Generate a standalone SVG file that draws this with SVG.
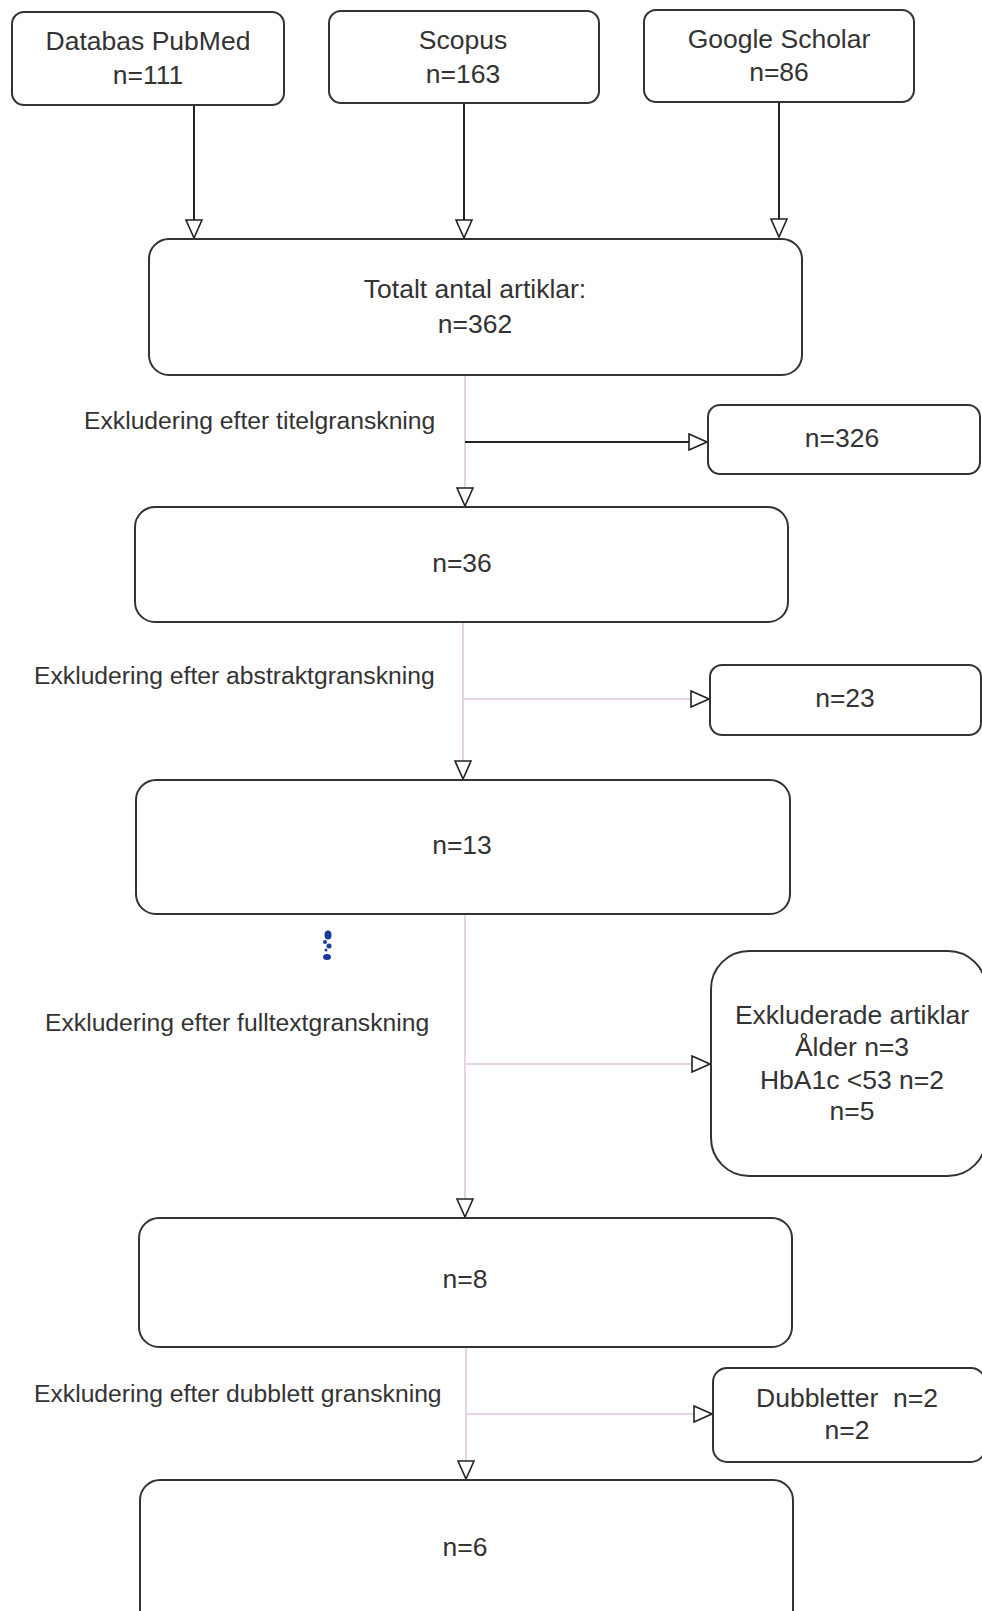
<svg xmlns="http://www.w3.org/2000/svg" width="982" height="1611" viewBox="0 0 982 1611">
<style>
.box{fill:#fff;stroke:#333;stroke-width:2}
.t{font-family:"Liberation Sans",Arial,sans-serif;font-size:26.5px;fill:#333;text-anchor:middle}
.lbl{font-family:"Liberation Sans",Arial,sans-serif;font-size:24.7px;fill:#333}
.dark{stroke:#222;stroke-width:2;fill:none}
.pale{stroke:#e6d3e6;stroke-width:2;fill:none}
</style>
<defs>
<marker id="arr" viewBox="0 0 20 18" refX="19" refY="9" markerWidth="20" markerHeight="18" markerUnits="userSpaceOnUse" orient="auto">
<path d="M1,1 L19,9 L1,17 z" fill="#fff" stroke="#222" stroke-width="1.6"/>
</marker>
</defs>
<rect width="982" height="1611" fill="#fff"/>
<g id="connectors">
<line class="dark" x1="194" y1="105" x2="194" y2="238" marker-end="url(#arr)"/>
<line class="dark" x1="464" y1="103" x2="464" y2="238" marker-end="url(#arr)"/>
<line class="dark" x1="779" y1="102" x2="779" y2="237" marker-end="url(#arr)"/>
<line class="pale" x1="465" y1="375" x2="465" y2="506" marker-end="url(#arr)"/>
<line class="dark" x1="465" y1="442" x2="707" y2="442" marker-end="url(#arr)"/>
<line class="pale" x1="463" y1="622" x2="463" y2="779" marker-end="url(#arr)"/>
<line class="pale" x1="463" y1="699" x2="709" y2="699" marker-end="url(#arr)"/>
<line class="pale" x1="465" y1="914" x2="465" y2="1217" marker-end="url(#arr)"/>
<line class="pale" x1="465" y1="1064" x2="710" y2="1064" marker-end="url(#arr)"/>
<line class="pale" x1="466" y1="1347" x2="466" y2="1479" marker-end="url(#arr)"/>
<line class="pale" x1="466" y1="1414" x2="712" y2="1414" marker-end="url(#arr)"/>
</g>
<g id="pubmed"><rect class="box" x="12" y="12" width="272" height="93" rx="12"/><text class="t" x="148" y="50">Databas PubMed</text><text class="t" x="148" y="84">n=111</text></g>
<g id="scopus"><rect class="box" x="329" y="11" width="270" height="92" rx="12"/><text class="t" x="463" y="49">Scopus</text><text class="t" x="463" y="83">n=163</text></g>
<g id="scholar"><rect class="box" x="644" y="10" width="270" height="92" rx="12"/><text class="t" x="779" y="48">Google Scholar</text><text class="t" x="779" y="81">n=86</text></g>
<g id="total"><rect class="box" x="149" y="239" width="653" height="136" rx="20"/><text class="t" x="475" y="298">Totalt antal artiklar:</text><text class="t" x="475" y="333">n=362</text></g>
<g id="label1"><text class="lbl" x="84" y="429">Exkludering efter titelgranskning</text></g>
<g id="excl1"><rect class="box" x="708" y="405" width="272" height="69" rx="12"/><text class="t" x="842" y="447">n=326</text></g>
<g id="n36"><rect class="box" x="135" y="507" width="653" height="115" rx="20"/><text class="t" x="462" y="572">n=36</text></g>
<g id="label2"><text class="lbl" x="34" y="684">Exkludering efter abstraktgranskning</text></g>
<g id="excl2"><rect class="box" x="710" y="665" width="271" height="70" rx="12"/><text class="t" x="845" y="707">n=23</text></g>
<g id="n13"><rect class="box" x="136" y="780" width="654" height="134" rx="20"/><text class="t" x="462" y="854">n=13</text></g>
<g id="mark" fill="#1a3a9a"><ellipse cx="328" cy="935" rx="3.5" ry="4.5"/><circle cx="325" cy="942" r="2"/><circle cx="329" cy="946" r="2.5"/><circle cx="326" cy="950" r="1.5"/><ellipse cx="327" cy="957" rx="4" ry="3"/></g>
<g id="label3"><text class="lbl" x="45" y="1031">Exkludering efter fulltextgranskning</text></g>
<g id="excl3"><rect class="box" x="711" y="951" width="275" height="225" rx="38"/><text class="t" x="852" y="1024">Exkluderade artiklar</text><text class="t" x="852" y="1056">Ålder n=3</text><text class="t" x="852" y="1089">HbA1c &lt;53 n=2</text><text class="t" x="852" y="1120">n=5</text></g>
<g id="n8"><rect class="box" x="139" y="1218" width="653" height="129" rx="20"/><text class="t" x="465" y="1288">n=8</text></g>
<g id="label4"><text class="lbl" x="34" y="1402">Exkludering efter dubblett granskning</text></g>
<g id="excl4"><rect class="box" x="713" y="1368" width="272" height="94" rx="14"/><text class="t" x="847" y="1407">Dubbletter&#160; n=2</text><text class="t" x="847" y="1439">n=2</text></g>
<g id="n6"><rect class="box" x="140" y="1480" width="653" height="150" rx="20"/><text class="t" x="465" y="1556">n=6</text></g>
</svg>
